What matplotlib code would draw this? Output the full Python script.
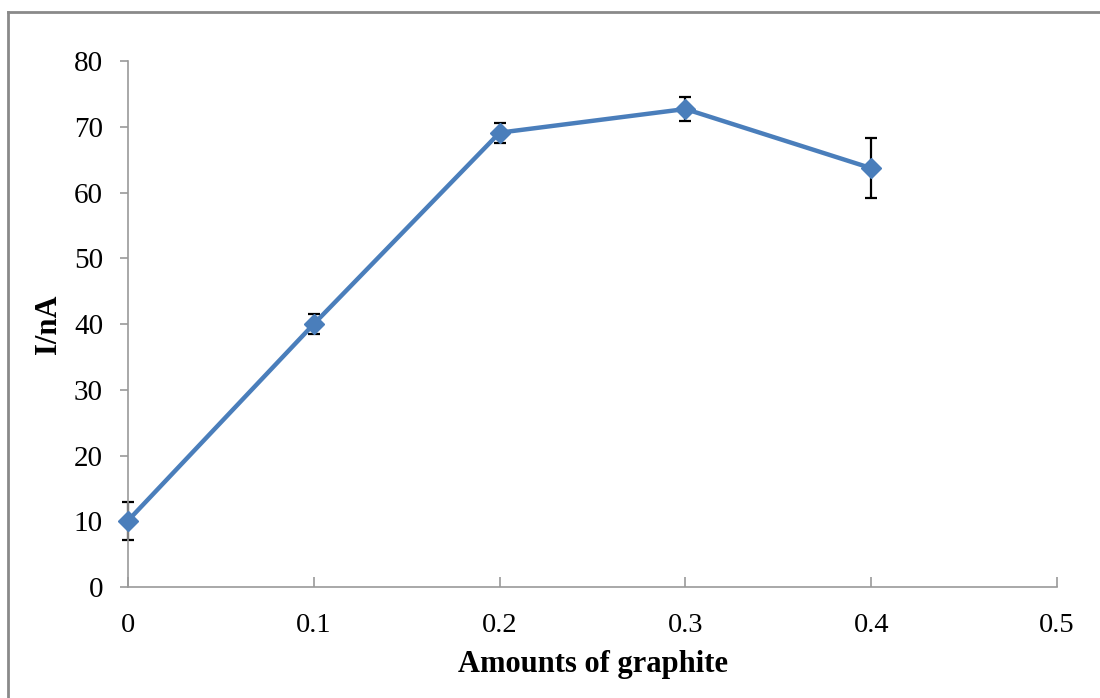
import matplotlib
matplotlib.use("Agg")
import matplotlib.pyplot as plt
from matplotlib.lines import Line2D

# graphite loading vs. peak current
graphite = [0, 0.1, 0.2, 0.3, 0.4]
current = [10.1, 40.0, 69.1, 72.7, 63.7]
current_err = [2.9, 1.5, 1.5, 1.8, 4.6]

x_ticks = [0, 0.1, 0.2, 0.3, 0.4, 0.5]
x_tick_labels = ["0", "0.1", "0.2", "0.3", "0.4", "0.5"]
y_ticks = [0, 10, 20, 30, 40, 50, 60, 70, 80]

plt.rcParams['font.family'] = ['Liberation Serif', 'DejaVu Serif']

fig = plt.figure(figsize=(11, 6.98), dpi=100)
ax = fig.add_axes([0.1164, 0.159, 0.8445, 0.7536])

# error bars first, then the line with diamond markers on top
ax.errorbar(graphite, current, yerr=current_err, fmt='none', ecolor='black',
            elinewidth=1.6, capsize=4, capthick=1.6, clip_on=False, zorder=2)
ax.plot(graphite, current, color='#4A7EBB', linewidth=3.2, marker='D',
        markersize=10.5, clip_on=False, zorder=3)

ax.set_xlim(0, 0.5)
ax.set_ylim(0, 80)
ax.set_xticks(x_ticks)
ax.set_xticklabels(x_tick_labels)
ax.set_yticks(y_ticks)

for side in ['top', 'right']:
    ax.spines[side].set_visible(False)
for side in ['left', 'bottom']:
    ax.spines[side].set_color('#9A9A9A')
    ax.spines[side].set_linewidth(1.2)

ax.tick_params(axis='y', direction='out', length=6, width=1.2, color='#9A9A9A',
               labelsize=21, pad=12)
ax.tick_params(axis='x', direction='in', length=7, width=1.2, color='#9A9A9A',
               labelsize=20.5, pad=19)

ax.set_xlabel('Amounts of graphite', fontsize=22, fontweight='bold', labelpad=8)
ax.set_ylabel('I/nA', fontsize=22, fontweight='bold', labelpad=8)

# chart-area border on the left and top edges
fig.add_artist(Line2D([0.0075, 0.0075], [0, 0.983], transform=fig.transFigure,
                      color='#8A8A8A', linewidth=2))
fig.add_artist(Line2D([0.0075, 1], [0.983, 0.983], transform=fig.transFigure,
                      color='#8A8A8A', linewidth=2))

fig.savefig('out.png', dpi=100)
